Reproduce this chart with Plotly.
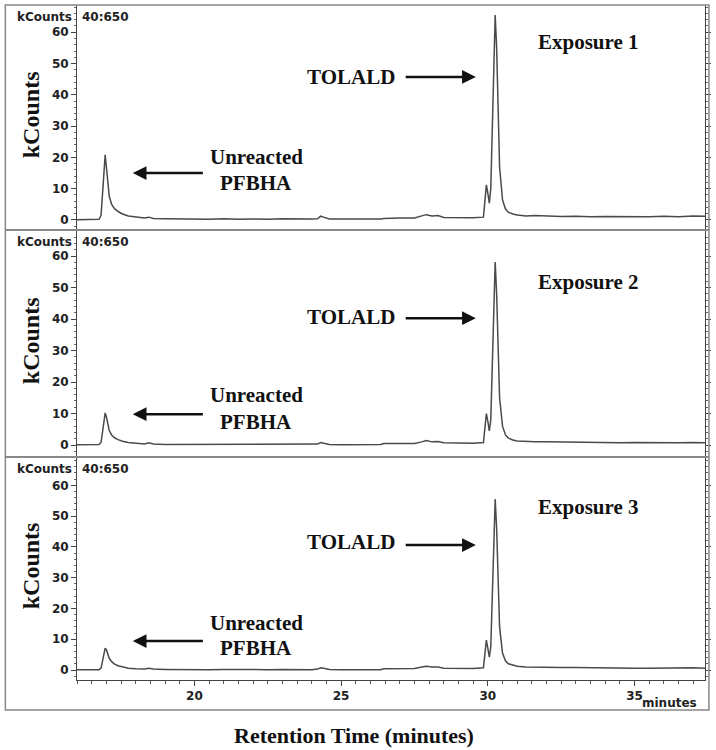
import plotly.graph_objects as go
from plotly.subplots import make_subplots

# ---------------- data ----------------
time_min = [16.0, 16.4, 16.75, 16.82, 16.87, 16.92, 16.96, 17.0, 17.05, 17.1,
            17.18, 17.28, 17.4, 17.55, 17.75, 18.0, 18.3, 18.45, 18.6, 19.0,
            19.5, 20.0, 20.5, 21.0, 21.5, 22.0, 22.5, 23.0, 23.5, 24.0,
            24.2, 24.3, 24.4, 24.6, 25.0, 25.5, 26.0, 26.35, 26.45, 27.0,
            27.5, 27.75, 27.9, 28.1, 28.3, 28.5, 29.0, 29.5, 29.85, 29.9,
            29.95, 30.0, 30.05, 30.1, 30.15, 30.2, 30.25, 30.3, 30.35, 30.4,
            30.5, 30.6, 30.7, 30.85, 31.0, 31.3, 31.6, 32.0, 32.5, 33.0,
            33.5, 34.0, 34.5, 35.0, 35.5, 36.0, 36.5, 37.0, 37.4]

exposure1 = [0.1, 0.1, 0.2, 1.5, 8.0, 17.5, 20.8, 17.0, 11.0, 7.5,
             5.0, 3.6, 2.7, 1.9, 1.3, 0.9, 0.6, 0.9, 0.5, 0.4,
             0.3, 0.3, 0.2, 0.4, 0.2, 0.3, 0.2, 0.4, 0.3, 0.3,
             0.4, 1.2, 0.9, 0.3, 0.3, 0.2, 0.3, 0.3, 0.5, 0.6,
             0.6, 1.3, 1.7, 1.3, 1.4, 0.8, 0.7, 0.7, 0.9, 6.0,
             11.2, 8.5, 5.4, 10.0, 30.0, 55.0, 65.5, 55.0, 33.0, 17.0,
             6.5, 3.5, 2.5, 1.9, 1.6, 1.3, 1.4, 1.2, 1.1, 1.2,
             1.0, 1.1, 1.0, 1.1, 1.0, 1.2, 1.0, 1.3, 1.2]

exposure2 = [0.1, 0.1, 0.2, 0.8, 4.0, 8.5, 10.2, 9.0, 6.5, 4.6,
             3.2, 2.3, 1.7, 1.2, 0.8, 0.5, 0.3, 0.7, 0.3, 0.2,
             0.2, 0.1, 0.2, 0.1, 0.2, 0.1, 0.2, 0.2, 0.1, 0.2,
             0.3, 0.8, 0.6, 0.2, 0.1, 0.2, 0.2, 0.2, 0.5, 0.5,
             0.5, 1.0, 1.4, 1.0, 1.1, 0.7, 0.6, 0.6, 0.8, 5.0,
             10.0, 7.5, 4.5, 8.0, 26.0, 49.0, 58.1, 48.0, 29.0, 15.0,
             6.0, 3.2, 2.2, 1.6, 1.3, 1.1, 1.0, 1.0, 0.9, 0.8,
             0.9, 0.8, 0.7, 0.8, 0.7, 0.8, 0.7, 0.8, 0.7]

exposure3 = [0.1, 0.0, 0.1, 0.6, 3.0, 6.0, 7.1, 6.6, 5.0, 3.8,
             2.7, 1.9, 1.4, 1.0, 0.6, 0.4, 0.3, 0.6, 0.3, 0.2,
             0.1, 0.1, 0.1, 0.2, 0.1, 0.1, 0.1, 0.2, 0.1, 0.1,
             0.3, 0.7, 0.6, 0.2, 0.1, 0.1, 0.1, 0.1, 0.4, 0.4,
             0.5, 1.0, 1.2, 1.0, 1.0, 0.6, 0.5, 0.5, 0.7, 5.0,
             9.7, 7.0, 4.2, 7.5, 24.0, 46.0, 55.5, 46.0, 28.0, 14.0,
             5.5, 3.0, 2.0, 1.5, 1.2, 1.0, 0.9, 0.9, 0.8, 0.8,
             0.7, 0.7, 0.7, 0.6, 0.6, 0.7, 0.6, 0.7, 0.6]

series = [exposure1, exposure2, exposure3]
panel_labels = ["Exposure 1", "Exposure 2", "Exposure 3"]
y_ticks = [0, 10, 20, 30, 40, 50, 60]
x_ticks = [20, 25, 30, 35]

for s in series:
    assert len(s) == len(time_min)

# ---------------- figure ----------------
fig = make_subplots(rows=3, cols=1, shared_xaxes=True, vertical_spacing=0)
for i, vals in enumerate(series):
    fig.add_trace(go.Scatter(x=time_min, y=vals, mode="lines",
                             line=dict(color="#4a4a4a", width=1.5),
                             showlegend=False, hoverinfo="skip"),
                  row=i + 1, col=1)

sans = "DejaVu Sans, Arial, sans-serif"
tick_font = dict(family=sans, size=12, color="#222", weight="bold")
serif = "Liberation Serif, Times New Roman, serif"
axis_col = "#444"

domains = [[0.6667, 1.0], [0.3304, 0.6667], [0.0, 0.3304]]
yranges = [[-3.2, 68.7], [-3.8, 68.3], [-3.25, 69.2]]

for i in range(3):
    yname = "yaxis" if i == 0 else f"yaxis{i+1}"
    fig.layout[yname].update(
        domain=domains[i], range=yranges[i], tickmode="array",
        tickvals=y_ticks, ticktext=[str(v) for v in y_ticks],
        ticks="outside", ticklen=5, tickcolor=axis_col, tickwidth=1,
        showline=True, linecolor=axis_col, linewidth=1, mirror="ticks",
        showgrid=False, zeroline=False, tickfont=tick_font,
        minor=dict(dtick=2, tick0=0, ticks="outside", ticklen=2,
                   tickcolor="#666", showgrid=False),
        fixedrange=True)
    xname = "xaxis" if i == 0 else f"xaxis{i+1}"
    fig.layout[xname].update(range=[16.0, 37.4], showgrid=False,
                             zeroline=False, fixedrange=True)
    if i < 2:
        fig.layout[xname].update(showline=False, ticks="",
                                 showticklabels=False)
    else:
        fig.layout[xname].update(
            showline=True, linecolor=axis_col, linewidth=1,
            tickmode="array", tickvals=x_ticks,
            ticktext=[str(v) for v in x_ticks],
            ticks="outside", ticklen=5, tickcolor=axis_col,
            tickfont=tick_font,
            minor=dict(dtick=0.5, tick0=16.0, ticks="outside", ticklen=3,
                       tickcolor="#555", showgrid=False))

# ---------------- frame and dividers ----------------
frame_col = "#888"
shapes = [
    dict(type="rect", xref="paper", yref="paper", x0=-0.1141, x1=1.0063,
         y0=-0.0444, y1=1.0, line=dict(color=frame_col, width=1.5)),
    dict(type="line", xref="paper", yref="paper", x0=-0.1141, x1=1.0063,
         y0=0.6667, y1=0.6667, line=dict(color=frame_col, width=2)),
    dict(type="line", xref="paper", yref="paper", x0=-0.1141, x1=1.0063,
         y0=0.3304, y1=0.3304, line=dict(color=frame_col, width=2)),
]

# ---------------- annotations ----------------
ann = []
big = dict(family=serif, size=21, color="#111", weight="bold")

tolald_y = [45.7, 40.6, 41.6]
tolald_arrow_y = [45.7, 40.3, 40.6]
expo_y = [56.9, 51.7, 52.9]
unre_y = [20.1, 15.9, 15.3]
pfbha_y = [11.8, 7.3, 7.1]
pf_arrow_y = [15.0, 9.8, 9.4]

small = dict(family=sans, size=12, color="#222", weight="bold")

for i in range(3):
    xr = "x" if i == 0 else f"x{i+1}"
    yr = "y" if i == 0 else f"y{i+1}"
    ann.append(dict(text="kCounts", xref="paper", x=0, xshift=-3,
                    xanchor="right", yref=f"{yr} domain", y=1, yshift=-12,
                    yanchor="middle", showarrow=False, font=small))
    ann.append(dict(text="40:650", xref="paper", x=0, xshift=3,
                    xanchor="left", yref=f"{yr} domain", y=1, yshift=-12,
                    yanchor="middle", showarrow=False, font=small))
    ann.append(dict(text="kCounts", xref="paper", x=0, xshift=-46,
                    xanchor="center", yref=f"{yr} domain", y=0.51,
                    yanchor="middle", textangle=-90, showarrow=False,
                    font=dict(family=serif, size=24, color="#111",
                              weight="bold")))
    ann.append(dict(text=panel_labels[i], xref=xr, yref=yr, x=33.42,
                    y=expo_y[i], showarrow=False, font=big))
    ann.append(dict(text="TOLALD", xref=xr, yref=yr, x=25.34,
                    y=tolald_y[i], showarrow=False, font=big))
    ann.append(dict(text="", xref=xr, yref=yr, axref=xr, ayref=yr,
                    x=29.59, y=tolald_arrow_y[i], ax=27.15,
                    ay=tolald_arrow_y[i], showarrow=True, arrowhead=2,
                    arrowsize=1.1, arrowwidth=2.5, arrowcolor="#111"))
    ann.append(dict(text="Unreacted", xref=xr, yref=yr, x=22.1,
                    y=unre_y[i], showarrow=False, font=big))
    ann.append(dict(text="PFBHA", xref=xr, yref=yr, x=22.1,
                    y=pfbha_y[i], showarrow=False, font=big))
    ann.append(dict(text="", xref=xr, yref=yr, axref=xr, ayref=yr,
                    x=17.9, y=pf_arrow_y[i], ax=20.34, ay=pf_arrow_y[i],
                    showarrow=True, arrowhead=2, arrowsize=1.1,
                    arrowwidth=2.5, arrowcolor="#111"))

ann.append(dict(text="minutes", xref="paper", yref="paper", x=1.0,
                xanchor="right", xshift=-6, y=-0.0341, yanchor="middle",
                showarrow=False, font=small))
ann.append(dict(text="Retention Time (minutes)", xref="paper",
                yref="paper", x=(355 - 77) / 631, y=-0.0815,
                xanchor="center", yanchor="middle", showarrow=False,
                font=dict(family=serif, size=22, color="#111",
                          weight="bold")))

fig.update_layout(
    width=716, height=750,
    margin=dict(l=77, r=8, t=5, b=70),
    paper_bgcolor="white", plot_bgcolor="white",
    shapes=shapes, annotations=ann, showlegend=False,
)

fig.write_html("out.html",
               config={"displayModeBar": False},
               post_script="document.body.style.margin='0';"
                           "document.body.style.padding='0';")
